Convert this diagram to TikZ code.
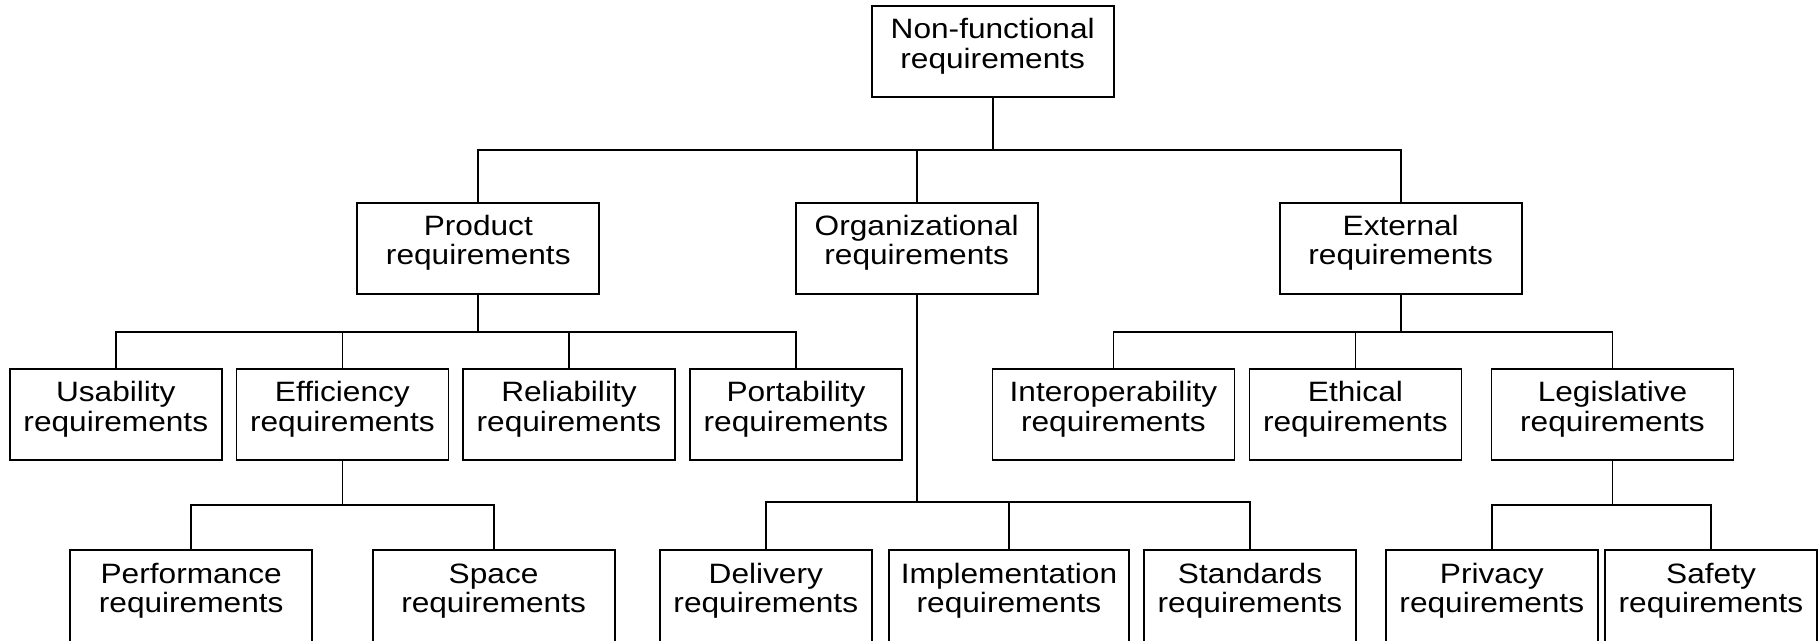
\documentclass[tikz,border=0pt]{standalone}
\usepackage{fontspec}
\setmainfont{Liberation Sans}[FakeStretch=1.13]
\usetikzlibrary{calc}
% two centred lines, aligned on the baseline of the second line
\newcommand\twol[2]{\begin{tabular}[b]{@{}c@{}}#1\\#2\end{tabular}}
\begin{document}
\begin{tikzpicture}[x=1pt,y=-1pt,
  box/.style={draw,line width=1.8pt,rectangle,inner sep=0pt,
    minimum height=91.3pt,minimum width=212pt,
    text height=32.6pt,text depth=0pt,
    font=\fontsize{28}{29.3}\selectfont},
  wide/.style={box,minimum width=242pt},
  wire/.style={line width=1.8pt}]
\useasboundingbox (0,0) rectangle (1820,640);
\clip (0,0) rectangle (1820,640);

% root
\node[wide] (root) at (992.7,51.7) {\twol{Non-functional}{requirements}};

% first level
\node[wide] (prod) at (478.3,248.3) {\twol{Product}{requirements}};
\node[wide] (org)  at (916.7,248.3) {\twol{Organizational}{requirements}};
\node[wide] (ext)  at (1400.7,248.3) {\twol{External}{requirements}};

% second level
\node[box]  (usab) at (115.8,414.7) {\twol{Usability}{requirements}};
\node[box]  (effi) at (342.4,414.7) {\twol{Efficiency}{requirements}};
\node[box]  (reli) at (569,414.7)   {\twol{Reliability}{requirements}};
\node[box]  (port) at (796,414.7)   {\twol{Portability}{requirements}};
\node[wide] (inter) at (1113.4,414.7) {\twol{Interoperability}{requirements}};
\node[box]  (ethi) at (1355.4,414.7) {\twol{Ethical}{requirements}};
\node[wide] (legi) at (1612.5,414.7) {\twol{Legislative}{requirements}};

% third level
\node[wide] (perf) at (191.2,596) {\twol{Performance}{requirements}};
\node[wide] (spac) at (493.6,596) {\twol{Space}{requirements}};
\node[box]  (deli) at (765.8,596) {\twol{Delivery}{requirements}};
\node[box,minimum width=240pt] (impl) at (1009,596) {\twol{Implementation}{requirements}};
\node[box]  (stan) at (1250,596) {\twol{Standards}{requirements}};
\node[box]  (priv) at (1491.8,596) {\twol{Privacy}{requirements}};
\node[box]  (safe) at (1711,596) {\twol{Safety}{requirements}};

% connectors: parent down to a bus, then across and down to each child
\foreach \c in {prod,org,ext}
  \draw[wire] (root.south) -- (root.south |- 0,150) -| (\c.north);
\foreach \c in {usab,effi,reli,port}
  \draw[wire] (prod.south) -- (prod.south |- 0,331.7) -| (\c.north);
\foreach \c in {inter,ethi,legi}
  \draw[wire] (ext.south) -- (ext.south |- 0,331.7) -| (\c.north);
\foreach \c in {perf,spac}
  \draw[wire] (effi.south) -- (effi.south |- 0,505) -| (\c.north);
\foreach \c in {deli,impl,stan}
  \draw[wire] (org.south) -- (org.south |- 0,502.3) -| (\c.north);
\foreach \c in {priv,safe}
  \draw[wire] (legi.south) -- (legi.south |- 0,505) -| (\c.north);
\end{tikzpicture}
\end{document}
